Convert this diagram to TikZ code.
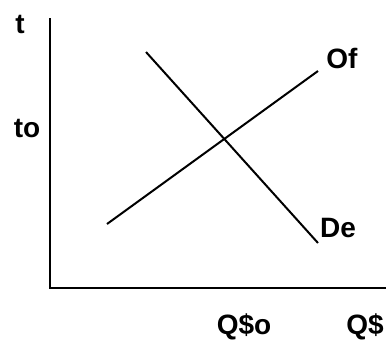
\documentclass[tikz,border=0pt]{standalone}
\usepackage{fontspec}
\setmainfont{Liberation Sans}
\begin{document}
\begin{tikzpicture}[x=0.75pt, y=-0.75pt,
    lbl/.style={font=\fontsize{21}{25}\selectfont\bfseries, inner sep=0pt, anchor=base},
    curve/.style={line width=1.5pt}]
    \useasboundingbox (0,0) rectangle (386,340);
    % ejes
    \coordinate (top) at (50,18);
    \coordinate (origin) at (50,288);
    \coordinate (right) at (386,288);
    \draw[line width=1.8pt] (top) -- (origin) -- (right);

    % oferta y demanda
    \coordinate (of1) at (107,224);
    \coordinate (of2) at (318,71);
    \coordinate (de1) at (146,52);
    \coordinate (de2) at (318,243);
    \draw[curve] (of1) -- (of2);
    \draw[curve] (de1) -- (de2);

    % etiquetas
    \node[lbl] (t) at (20,33) {t};
    \node[lbl] (to) at (27,137) {to};
    \node[lbl] (of) at (342,68) {Of};
    \node[lbl] (de) at (338,237) {De};
    \node[lbl] (qo) at (244,334) {Q\$o};
    \node[lbl] (q) at (365,334) {Q\$};
\end{tikzpicture}
\end{document}
